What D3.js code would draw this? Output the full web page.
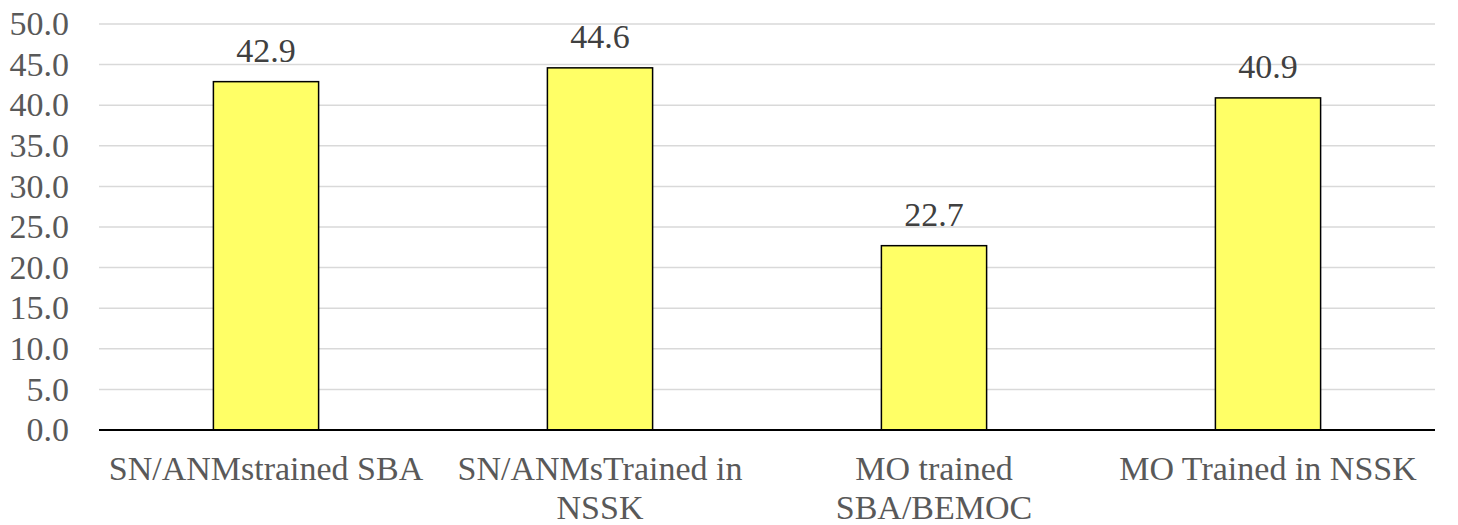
<!DOCTYPE html>
<html>
<head>
<meta charset="utf-8">
<script src="https://cdn.jsdelivr.net/npm/d3@7"></script>
<style>
  text { font-family: "Liberation Serif", "Times New Roman", Tinos, serif; }
</style>
</head>
<body style="margin:0;background:#fff;font-family:'Liberation Serif',serif">
<svg id="chart" width="1458" height="525" font-family="Liberation Serif" font-size="34" style="display:block"></svg>
<script>
const categories = ["SN/ANMstrained SBA", "SN/ANMsTrained in NSSK", "MO trained SBA/BEMOC", "MO Trained in NSSK"];
const values = [42.9, 44.6, 22.7, 40.9];
const yTicks = [0, 5, 10, 15, 20, 25, 30, 35, 40, 45, 50];

const W = 1458, H = 525;
const margin = { top: 24, right: 23, bottom: 95, left: 99 };

// break a label into lines of at most maxChars characters
function wrapLines(label, maxChars) {
  const lines = [];
  let cur = "";
  label.split(" ").forEach(w => {
    const next = cur ? cur + " " + w : w;
    if (next.length > maxChars && cur) { lines.push(cur); cur = w; }
    else cur = next;
  });
  if (cur) lines.push(cur);
  return lines;
}

const svg = d3.select("#chart");
const iw = W - margin.left - margin.right;
const ih = H - margin.top - margin.bottom;

const x = d3.scaleBand().domain(categories).range([margin.left, margin.left + iw]).padding(0);
const y = d3.scaleLinear().domain([0, 50]).range([margin.top + ih, margin.top]);
const barW = x.bandwidth() * 0.315;

// horizontal gridlines
svg.selectAll("line.grid").data(yTicks.filter(d => d > 0)).join("line")
  .attr("class", "grid")
  .attr("x1", margin.left).attr("x2", margin.left + iw)
  .attr("y1", d => y(d)).attr("y2", d => y(d))
  .attr("stroke", "#d9d9d9").attr("stroke-width", 1.5);

// y axis labels
svg.selectAll("text.ytick").data(yTicks).join("text")
  .attr("class", "ytick")
  .attr("x", margin.left - 30)
  .attr("y", d => y(d))
  .attr("dy", "0.33em")
  .attr("text-anchor", "end")
  .style("fill", "#595959")
  .text(d => d3.format(".1f")(d));

// bars
svg.selectAll("rect.bar").data(values).join("rect")
  .attr("class", "bar")
  .attr("x", (d, i) => x(categories[i]) + x.bandwidth() / 2 - barW / 2)
  .attr("y", d => y(d))
  .attr("width", barW)
  .attr("height", d => y(0) - y(d))
  .attr("fill", "#ffff66")
  .attr("stroke", "#000").attr("stroke-width", 1.5);

// value labels
svg.selectAll("text.value").data(values).join("text")
  .attr("class", "value")
  .attr("x", (d, i) => x(categories[i]) + x.bandwidth() / 2)
  .attr("y", d => y(d) - 20)
  .attr("text-anchor", "middle")
  .style("fill", "#404040")
  .text(d => d3.format(".1f")(d));

// baseline
svg.append("line")
  .attr("x1", margin.left).attr("x2", margin.left + iw)
  .attr("y1", y(0)).attr("y2", y(0))
  .attr("stroke", "#000").attr("stroke-width", 2);

// category labels
svg.selectAll("text.cat").data(categories).join("text")
  .attr("class", "cat")
  .attr("x", d => x(d) + x.bandwidth() / 2)
  .attr("y", y(0) + 50)
  .attr("text-anchor", "middle")
  .style("fill", "#595959")
  .each(function (d) {
    const cx = x(d) + x.bandwidth() / 2;
    d3.select(this).selectAll("tspan").data(wrapLines(d, 18)).join("tspan")
      .attr("x", cx)
      .attr("dy", (l, i) => i === 0 ? 0 : 39)
      .text(l => l);
  });
</script>
</body>
</html>
